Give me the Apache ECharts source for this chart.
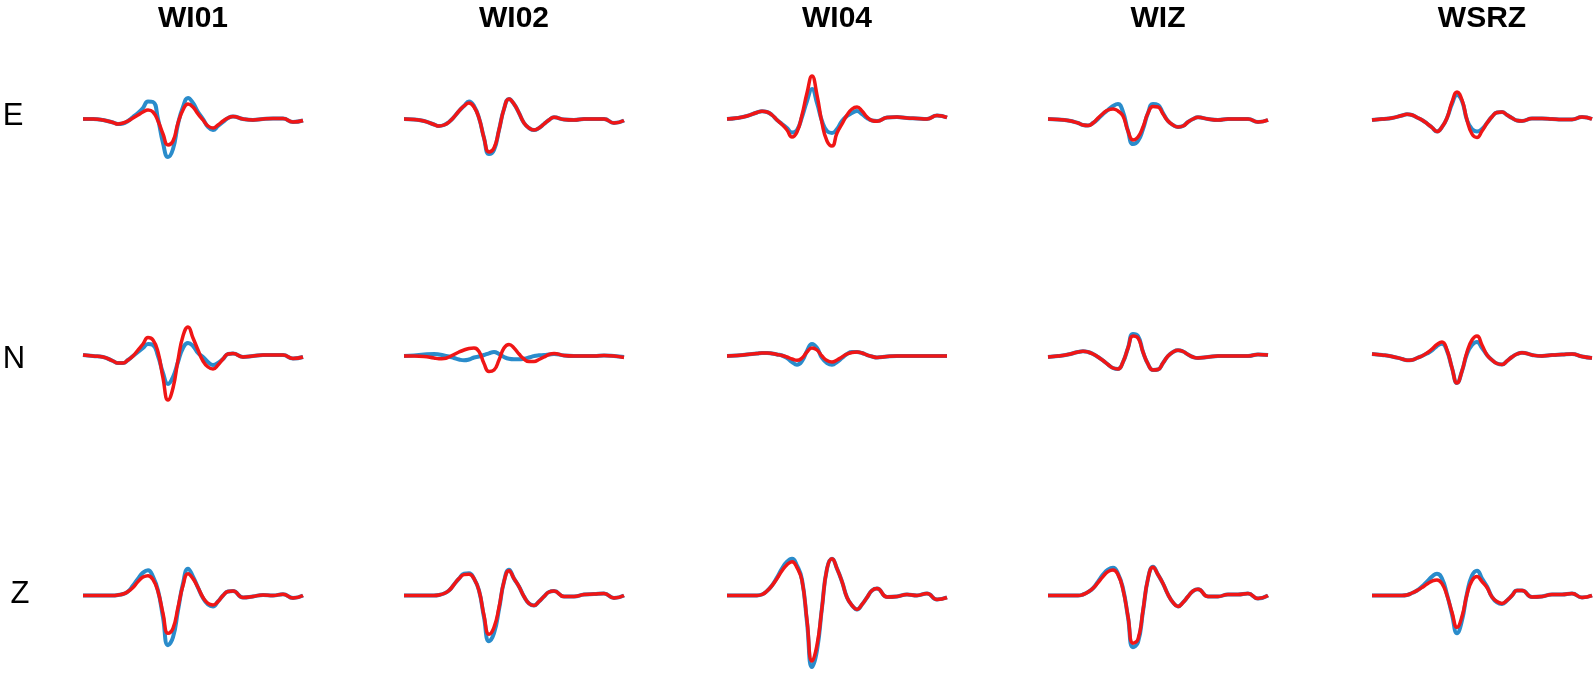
<!DOCTYPE html>
<html>
<head>
<meta charset="utf-8">
<script src="https://cdn.jsdelivr.net/npm/echarts@6/dist/echarts.min.js"></script>
<style>
  html, body { margin: 0; padding: 0; background: #fff; }
  #chart { width: 1595px; height: 675px; }
</style>
</head>
<body>
<div id="chart"></div>
<script>
// stations and components
const stations = ['WI01', 'WI02', 'WI04', 'WIZ', 'WSRZ']
const components = ['E', 'N', 'Z']

// sample times (px along each trace)
const timeAxis = [0, 10, 20, 30, 35, 40, 45, 50, 55, 60, 65, 70, 75, 80, 85, 90, 95, 100, 105,
  110, 115, 120, 125, 130, 135, 140, 145, 150, 160, 170, 180, 190, 200, 210, 220]

// E component - blue = observed, red = synthetic
const wi01E_blue = [0, 0, -1, -3.5, -5, -4.5, -2, 2, 6, 11, 17.5, 17, 0, -24, -38, -30, -5, 12, 21, 16, 7, 0, -8, -11, -7, -3, 1, 2.5, 0, -1, 0, 0.5, 0.5, -3, -1.5]
const wi01E_red = [0, 0, -1, -3.5, -5, -4, -2, 1, 4, 7, 9, 7, -2, -15, -26, -22, -4, 9, 15, 12, 5, -1, -7, -9, -6, -2, 1, 2.5, 0, -1, 0, 0.5, 0.5, -3, -1.5]
const wi02E_blue = [0, -0.5, -2, -5.5, -7, -6, -3, 2, 8, 13, 17.5, 13, 1, -19, -35, -31, -11, 10, 20, 15, 6, -4, -9, -11, -9, -5, -1, 1.7, -0.5, -1, 0, 0, 0, -4, -1.5]
const wi02E_red = [0, -0.5, -2, -5.5, -7, -6, -3, 2, 8, 13, 16, 12, 1, -19, -33, -29, -11, 10, 20, 15, 6, -4, -9, -11, -9, -5, -1, 1.7, -0.5, -1, 0, 0, 0, -4, -1.5]
const wi04E_blue = [0, 1, 3, 6.5, 7.7, 7, 4, -1, -5, -9, -13.5, -11, 2, 18, 30, 16, -2, -12, -14, -10, -2, 3, 6, 8, 5, 1, -1.5, -2, 1.5, 2, 1, 0.5, 0, 3.5, 1.5]
const wi04E_red = [0, 1, 3, 6.5, 7.7, 7, 4, -1, -5.5, -11, -18, -13, 4, 26, 43, 24, -4, -22, -27, -14, -5, 4, 10, 12, 8, 2, -1.5, -2.3, 1.5, 2, 1, 0.5, 0, 3.5, 1.5]
const wizE_blue = [0, -0.5, -1.5, -4, -6, -6.5, -4, 0, 5, 9, 13, 15, 7, -12, -25, -22, -10, 6, 15, 14, 6, -2, -6, -8, -7, -3, 0, 1.7, 0, -1, 0, 0, 0, -3, -1]
const wizE_red = [0, -0.5, -1.5, -4, -6, -6.5, -4, 1, 5.5, 9, 10, 8, 3, -12, -21, -18, -8, 6, 12.5, 12, 5, -2, -6, -8, -7, -3, 0, 1.7, 0, -1, 0, 0, 0, -3, -1]
const wsrzE_blue = [-1, 0, 1, 3.5, 4.7, 4, 1.5, -1, -4.5, -8.5, -12.5, -8, 1, 15, 24, 18, -1, -10, -12.5, -10, -4, 2.3, 6.5, 7, 4, 1, -1.5, -2, 0.5, 0.5, 0, -0.5, -0.5, 2, 0]
const wsrzE_red = [-1, 0, 1, 3.5, 4.7, 4, 1.5, -1, -4.5, -8.5, -12.5, -8, 1, 17, 27, 19, -1, -15, -18.5, -12, -4, 2.3, 6.5, 7, 4, 1, -1.5, -2, 0.5, 0.5, 0, -0.5, -0.5, 2, 0]

// N component
const wi01N_blue = [1, 0, -1, -5, -7, -7, -4, 0, 4, 8, 12, 11, 0, -17, -28, -21, -6, 8, 13, 10, 3, -1, -6, -9, -7, -3, 2, 2.5, -1, 0, 1, 1, 1, -2.5, -1]
const wi01N_red = [1, 0, -1, -5, -7, -7, -4, 0, 6, 12, 18.5, 16, 4, -22, -44, -32, -4, 20, 29, 18, 6, -5, -11, -13, -9, -3, 2, 2.5, -1, 0, 1, 1, 1, -2.5, -1]
const wi02N_blue = [0, 0.5, 1.5, 2, 1.5, 0.5, -0.5, -2, -3.5, -4.3, -3.5, -1.5, -0.5, 1, 2.7, 4, 2, -1, -2.8, -3.3, -3.3, -2.7, -1.5, 0, 0.7, 1, 1.5, 2, 0.5, 0, 0, 0, 0.5, 0, -1]
const wi02N_red = [0, 0, -0.5, -2, -2.7, -2.5, -1, 1.5, 4, 6, 7.5, 8, 4.5, -7.5, -15.5, -14, -4, 8, 11.5, 8, 2, -3, -5.5, -5.5, -3.5, -1, 1.5, 2.5, 0.5, 0, 0, 0, 0.5, 0, -1.5]
const wi04N_blue = [0, 0.5, 1.5, 2.5, 3, 3, 2.5, 1.5, 0.5, -2, -6, -8.7, -5, 5, 12, 8, -2, -7, -8.7, -6, -2, 2, 4, 4, 3, 1, -0.5, -1.5, -0.5, 0, 0, 0, 0, 0, 0]
const wi04N_red = [0, 0.5, 1.5, 2.5, 3, 3, 2.5, 1.5, 0.5, -1, -3, -4.3, -2, 4, 8, 6, 0, -4.5, -6, -4, -1, 2, 3.5, 4, 3, 1, -0.5, -1.5, -0.5, 0, 0, 0, 0, 0, 0]
const wizN_blue = [-1, 0, 1.5, 4, 4.7, 4, 2, -1, -4.5, -8.5, -12, -13, -6, 8, 22, 20, 4, -8, -14, -13.5, -7, 0, 4, 5.7, 4.5, 1.5, -1, -2, -1, 0, 0, 0, 0, 1.5, 1]
const wizN_red = [-1, 0, 1.5, 4, 4.7, 4, 2, -1, -4.5, -8.5, -12, -13, -6, 8, 20, 18, 4, -8, -14, -13.5, -7, 0, 4, 5.7, 4.5, 1.5, -1, -2, -1, 0, 0, 0, 0, 1.5, 1]
const wsrzN_blue = [2, 1, -0.5, -3, -4.3, -4, -2, 0, 2.5, 5.5, 10, 12.3, 5, -12, -27, -15, 2, 11, 14, 8, 1, -4, -7.5, -8.5, -5, -1, 2, 3.3, 1, 0, 1, 1.5, 2, -0.5, -2]
const wsrzN_red = [2, 1, -0.5, -3, -4.3, -4, -2, 0, 3, 7, 11.5, 14, 6, -12, -27, -15, 4, 16, 20, 11, 1, -4, -7.5, -8.5, -5, -1, 2, 3.3, 1, 0, 1, 1.5, 2, -0.5, -2]

// Z component
const wi01Z_blue = [0, 0, 0, 0, 0.5, 1.5, 4, 10, 17, 23, 25.5, 19, 5, -22, -50, -42, -15, 12, 27, 19, 8, -2.5, -9, -11, -6, 0, 4, 4.5, -2, -1, 0.5, 0, 1.3, -2.5, 0]
const wi01Z_red = [0, 0, 0, 0, 0.5, 1.5, 4, 8, 14, 18.5, 20, 16, 4, -18, -38, -33, -12, 10, 22, 17, 8, -2, -8, -9.5, -6, 0, 4, 4.5, -2, -1, 0.5, 0, 1.3, -2.5, 0]
const wi02Z_blue = [0, 0, 0, 0, 0.5, 2, 5, 11, 17, 22, 22.5, 17, 5, -22, -46, -38, -14, 14, 26, 17, 9, -1, -8, -10, -6, -1, 3.5, 4.5, -1, -1, 1, 1.5, 2, -2.5, 0]
const wi02Z_red = [0, 0, 0, 0, 0.5, 2, 5, 11, 17, 21, 21.5, 17, 5, -20, -39, -32, -12, 14, 25, 17, 9, -1, -8, -10, -6, -1, 3.5, 4.5, -1, -1, 1, 1.5, 2, -2.5, 0]
const wi04Z_blue = [0, 0, 0, 0, 1, 4.5, 10, 18, 27, 34, 37, 30, 16, -27, -72, -55, -12, 27, 37, 27, 14, -2, -10, -14, -9, -2, 5, 7, -1.5, -1, 1, 0, 2, -4, -2]
const wi04Z_red = [0, 0, 0, 0, 1, 4.5, 10, 17, 25, 31, 34, 28, 15, -25, -66, -50, -12, 27, 37, 27, 14, -2, -10, -14, -9, -2, 5, 7, -1.5, -1, 1, 0, 2, -4, -2]
const wizZ_blue = [0, 0, 0, 0, 1, 3.5, 7.3, 14, 21, 26, 28, 22, 7, -22, -52, -47, -16, 17, 29, 21, 12, 1, -7, -11, -7, -1, 4.5, 6.3, -1, -1, 1, 1, 2, -3, 0]
const wizZ_red = [0, 0, 0, 0, 1, 3.5, 7.3, 13, 19, 24, 25.7, 21, 6, -21, -48, -44, -15, 17, 28.5, 21, 12, 1, -7, -11, -7, -1, 4.5, 6.3, -1, -1, 1, 1, 2, -3, 0]
const wsrzZ_blue = [0, 0, 0, 0, 0.5, 2.5, 5, 9, 14, 19, 22, 17, 1, -19, -38, -25, 2, 20, 25, 17, 9, -1.5, -7, -8.5, -5, 0, 5, 5, -1.5, -1, 1, 1, 2, -2, 0]
const wsrzZ_red = [0, 0, 0, 0, 0.5, 2.5, 5, 8, 11.5, 14.5, 15.7, 12, 0, -17, -32, -21, 1, 15, 19, 14, 8, -1.5, -6, -8, -5, 0, 5, 5, -1.5, -1, 1, 1, 2, -2, 0]

// rows: [component][station] -> [blue, red]
const traces = [
  [[wi01E_blue, wi01E_red], [wi02E_blue, wi02E_red], [wi04E_blue, wi04E_red], [wizE_blue, wizE_red], [wsrzE_blue, wsrzE_red]],
  [[wi01N_blue, wi01N_red], [wi02N_blue, wi02N_red], [wi04N_blue, wi04N_red], [wizN_blue, wizN_red], [wsrzN_blue, wsrzN_red]],
  [[wi01Z_blue, wi01Z_red], [wi02Z_blue, wi02Z_red], [wi04Z_blue, wi04Z_red], [wizZ_blue, wizZ_red], [wsrzZ_blue, wsrzZ_red]]
]

// layout
const colLeft = [83, 404, 727, 1048, 1372]
const rowBase = [119, 356, 596]
const panelW = 220
const halfH = 80

const chart = echarts.init(document.getElementById('chart'), null, { renderer: 'canvas' })

const grids = []
const xAxes = []
const yAxes = []
const series = []
const graphics = []

const pair = (arr) => timeAxis.map((t, i) => [t, arr[i]])

rowBase.forEach((base, r) => {
  colLeft.forEach((left, c) => {
    const idx = grids.length
    grids.push({ left: left, top: base - halfH, width: panelW, height: halfH * 2 })
    xAxes.push({ gridIndex: idx, type: 'value', min: 0, max: 220, show: false })
    yAxes.push({ gridIndex: idx, type: 'value', min: -halfH, max: halfH, show: false })
    const [blue, red] = traces[r][c]
    series.push({
      type: 'line', xAxisIndex: idx, yAxisIndex: idx, data: pair(blue),
      smooth: 0.5, showSymbol: false, silent: true,
      lineStyle: { color: '#2a8ccb', width: 4 }
    })
    series.push({
      type: 'line', xAxisIndex: idx, yAxisIndex: idx, data: pair(red),
      smooth: 0.5, showSymbol: false, silent: true,
      lineStyle: { color: '#f01616', width: 3.5 }
    })
  })
})

// station titles
stations.forEach((name, c) => {
  graphics.push({
    type: 'text', x: colLeft[c] + panelW / 2, y: 19,
    style: { text: name, fontSize: 30, fontWeight: 'bold', fontFamily: 'Liberation Sans, Arial, sans-serif',
      fill: '#000', textAlign: 'center', textVerticalAlign: 'middle' }
  })
})

// component labels
const labelX = [13, 14, 20]
const labelY = [116, 359, 594]
components.forEach((name, r) => {
  graphics.push({
    type: 'text', x: labelX[r], y: labelY[r],
    style: { text: name, fontSize: 31, fontFamily: 'Liberation Sans, Arial, sans-serif',
      fill: '#000', textAlign: 'center', textVerticalAlign: 'middle' }
  })
})

chart.setOption({
  animation: false,
  backgroundColor: '#fff',
  grid: grids,
  xAxis: xAxes,
  yAxis: yAxes,
  series: series,
  graphic: graphics
})
</script>
</body>
</html>
